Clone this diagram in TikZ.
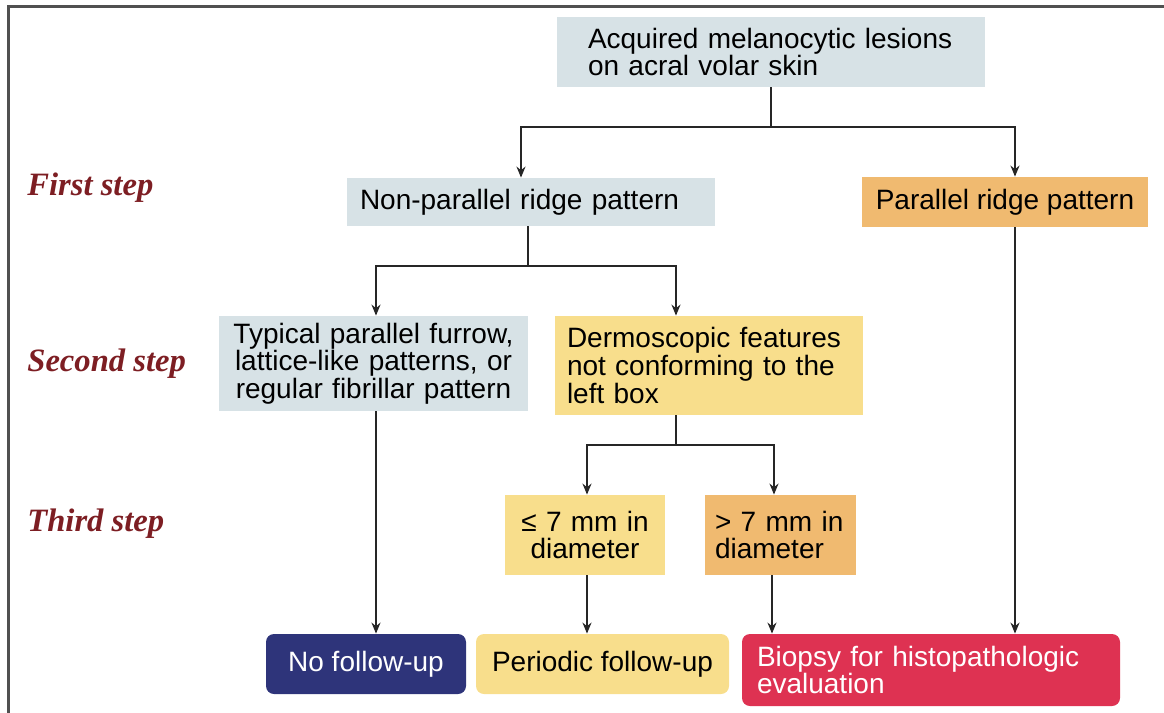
\documentclass[tikz,border=0pt]{standalone}
\usepackage{fontspec}
\setmainfont{Liberation Sans}
\newfontfamily\stepfont{Liberation Serif}
\usepackage{tikz}
\usetikzlibrary{arrows.meta,positioning}
\usepackage{xcolor}
\definecolor{boxgray}{RGB}{215,226,230}
\definecolor{boxorange}{RGB}{240,186,112}
\definecolor{boxyellow}{RGB}{248,222,140}
\definecolor{boxnavy}{RGB}{46,52,122}
\definecolor{boxred}{RGB}{222,50,82}
\definecolor{steptext}{RGB}{125,30,35}
\definecolor{framegray}{RGB}{80,80,80}

\begin{document}
\begin{tikzpicture}[x=0.5pt,y=-0.5pt,
    box/.style={inner ysep=2pt,font=\fontsize{14}{13.8}\selectfont},
    endbox/.style={box,rounded corners=4pt},
    steplabel/.style={anchor=west,inner sep=0pt,text=steptext,font=\stepfont\fontsize{16.3}{18}\selectfont\bfseries\itshape},
    link/.style={draw=black!85,line width=0.9pt},
    arrow/.style={link,-{Stealth[length=5.5pt,width=4.5pt]}}]
  \useasboundingbox (0,0) rectangle (1164,713);
  % frame
  \draw[framegray,line width=1.5pt] (8,713) -- (8,6) -- (1164,6);

  % step labels
  \node[steplabel] (first) at (27,188) {First step};
  \node[steplabel] (second) at (27,364) {Second step};
  \node[steplabel] (third) at (27,524) {Third step};

  % boxes
  \node[box,fill=boxgray,minimum width=214pt,minimum height=35pt,text width=183pt,inner xsep=15.5pt,align=left] (lesions) at (771,52) {%
    Acquired melanocytic lesions\\on acral volar skin};
  \node[box,fill=boxgray,minimum width=184pt,minimum height=24pt,text width=171pt,inner xsep=6.5pt,align=left] (nonpar) at (531,202) {Non-parallel ridge pattern};
  \node[box,fill=boxorange,minimum width=143pt,minimum height=25pt,align=center] (par) at (1005,202) {Parallel ridge pattern};
  \node[box,fill=boxgray,minimum width=154.5pt,minimum height=47.5pt,text width=150pt,inner xsep=2.25pt,align=center] (typical) at (373.5,363.5) {%
    Typical parallel furrow,\\lattice-like patterns, or\\regular fibrillar pattern};
  \node[box,fill=boxyellow,minimum width=154pt,minimum height=49.5pt,text width=142pt,inner xsep=6pt,align=left] (derm) at (709,365.5) {%
    Dermoscopic features\\not conforming to the\\left box};
  \node[box,fill=boxyellow,minimum width=80pt,minimum height=40pt,text width=74pt,inner xsep=3pt,align=center] (small) at (585,535) {%
    ≤ 7 mm in\\diameter};
  \node[box,fill=boxorange,minimum width=75.5pt,minimum height=40pt,text width=65.5pt,inner xsep=5pt,align=left] (large) at (780.5,535) {%
    > 7 mm in\\diameter};
  \node[endbox,fill=boxnavy,text=white,minimum width=100pt,minimum height=30pt,align=center] (nofollow) at (366,664) {No follow-up};
  \node[endbox,fill=boxyellow,minimum width=126.5pt,minimum height=30pt,align=center] (periodic) at (602.5,664) {Periodic follow-up};
  \node[endbox,fill=boxred,text=white,minimum width=189pt,minimum height=36pt,text width=174pt,inner xsep=7.5pt,align=left] (biopsy) at (931,670) {%
    Biopsy for histopathologic\\evaluation};

  % connectors
  \draw[link] (lesions.south) -- (771,127);
  \draw[arrow] (771,127) -| (nonpar.north -| 521,0);
  \draw[arrow] (771,127) -| (par.north -| 1015,0);
  \draw[link] (nonpar.south -| 528,0) -- (528,266);
  \draw[arrow] (528,266) -| (typical.north -| 376,0);
  \draw[arrow] (528,266) -| (derm.north -| 676,0);
  \draw[arrow] (typical.south -| 376,0) -- (nofollow.north -| 376,0);
  \draw[link] (derm.south -| 676,0) -- (676,445);
  \draw[arrow] (676,445) -| (small.north -| 587,0);
  \draw[arrow] (676,445) -| (large.north -| 774,0);
  \draw[arrow] (small.south -| 587,0) -- (periodic.north -| 587,0);
  \draw[arrow] (large.south -| 772,0) -- (biopsy.north -| 772,0);
  \draw[arrow] (par.south -| 1015,0) -- (biopsy.north -| 1015,0);
\end{tikzpicture}
\end{document}
